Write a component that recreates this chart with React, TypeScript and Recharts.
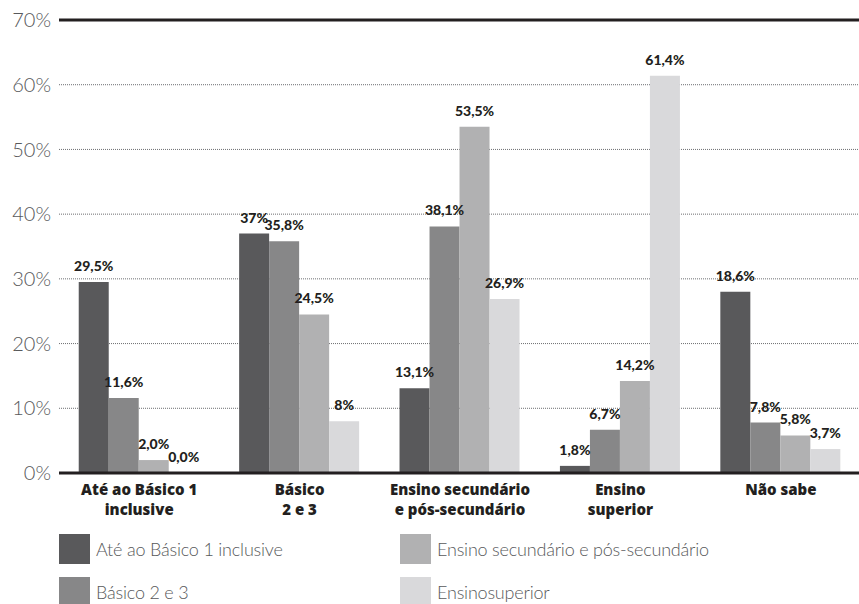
import React from "react";
import {Bar, BarChart, CartesianGrid, LabelList, Legend, ReferenceLine, XAxis, YAxis} from "recharts";

const categories = [
    "Até ao Básico 1\ninclusive",
    "Básico\n2 e 3",
    "Ensino secundário\ne pós-secundário",
    "Ensino\nsuperior",
    "Não sabe"
];
const seriesNames = [
    "Até ao Básico 1 inclusive",
    "Básico 2 e 3",
    "Ensino secundário e pós-secundário",
    "Ensinosuperior"
];
const seriesColors = ["#59595b", "#878788", "#b1b1b2", "#d9d9db"];

// bar heights as drawn in the source (two bars do not match their printed label)
const basico1Values = [29.5, 37, 13.1, 1.1, 28];
const basico23Values = [11.6, 35.8, 38.1, 6.7, 7.8];
const secundarioValues = [2.0, 24.5, 53.5, 14.2, 5.8];
const superiorValues = [0, 8, 26.9, 61.4, 3.7];

const basico1Labels = ["29,5%", "37%", "13,1%", "1,8%", "18,6%"];
const basico23Labels = ["11,6%", "35,8%", "38,1%", "6,7%", "7,8%"];
const secundarioLabels = ["2,0%", "24,5%", "53,5%", "14,2%", "5,8%"];
const superiorLabels = ["0,0%", "8%", "26,9%", "61,4%", "3,7%"];

const yTicks = [0, 10, 20, 30, 40, 50, 60, 70];

const data = categories.map((name, i) => ({
    name,
    s1: basico1Values[i],
    s2: basico23Values[i],
    s3: secundarioValues[i],
    s4: superiorValues[i],
    l1: basico1Labels[i],
    l2: basico23Labels[i],
    l3: secundarioLabels[i],
    l4: superiorLabels[i]
}));

// two-line category label, one <text> per line
const CategoryTick = (props: any) => {
    const {x, y, payload} = props;
    const lines = String(payload.value).split("\n");
    return <g>
        {lines.map((l, i) =>
            <text key={i} x={x} y={y + 14 + i * 20} textAnchor="middle" fill="#231f20"
                  fontFamily="Open Sans" fontWeight={800} fontSize={15}>{l}</text>
        )}
    </g>
}

const renderLegend = (props: any) => {
    const items = props.payload || [];
    return <div style={{
        display: "grid", gridTemplateRows: "30px 30px", gridAutoFlow: "column",
        gridTemplateColumns: "341px 420px", rowGap: 13, paddingLeft: 59, paddingTop: 10,
        height: 80, boxSizing: "border-box"
    }}>
        {items.map((entry: any, i: number) =>
            <div key={i} style={{display: "flex", alignItems: "center"}}>
                <div style={{width: 31, height: 30, background: entry.color}} />
                <span style={{
                    marginLeft: 6, fontFamily: "Lato", fontWeight: 300, fontSize: 18,
                    color: "#58595b", whiteSpace: "nowrap", letterSpacing: -0.2
                }}>{entry.value}</span>
            </div>
        )}
    </div>
}

const labelStyle = {fontFamily: "Lato", fontWeight: 900, fontSize: 14, fill: "#231f20"};

export default function App() {
    const valueKeys = ["s1", "s2", "s3", "s4"];
    const labelKeys = ["l1", "l2", "l3", "l4"];
    return <div style={{position: "absolute", left: 0, top: 0, width: 859, height: 604, overflow: "hidden", background: "#fff"}}>
        <BarChart width={861} height={604} data={data} barGap={0} barCategoryGap="12.3%"
                  margin={{top: 20, right: 0, left: 0, bottom: 0}}>
            <CartesianGrid horizontal vertical={false} stroke="#6d6e71" strokeDasharray="1 1" />
            <XAxis dataKey="name" interval={0} height={51} tickLine={false}
                   axisLine={{stroke: "#231f20", strokeWidth: 3}} tick={<CategoryTick />} />
            <YAxis width={59} domain={[0, 70]} ticks={yTicks} axisLine={false} tickLine={false}
                   tickFormatter={(v) => `${v}%`}
                   tick={{fontFamily: "Lato", fontWeight: 300, fontSize: 20, fill: "#58595b"}} />
            <ReferenceLine y={70} stroke="#231f20" strokeWidth={3} />
            <Legend verticalAlign="bottom" content={renderLegend} wrapperStyle={{left: 0, width: 859}} />
            {valueKeys.map((k, i) =>
                <Bar key={k} dataKey={k} name={seriesNames[i]} fill={seriesColors[i]}
                     minPointSize={0.01} isAnimationActive={false}>
                    <LabelList dataKey={labelKeys[i]} position="top" offset={11} style={labelStyle} />
                </Bar>
            )}
        </BarChart>
    </div>
}
